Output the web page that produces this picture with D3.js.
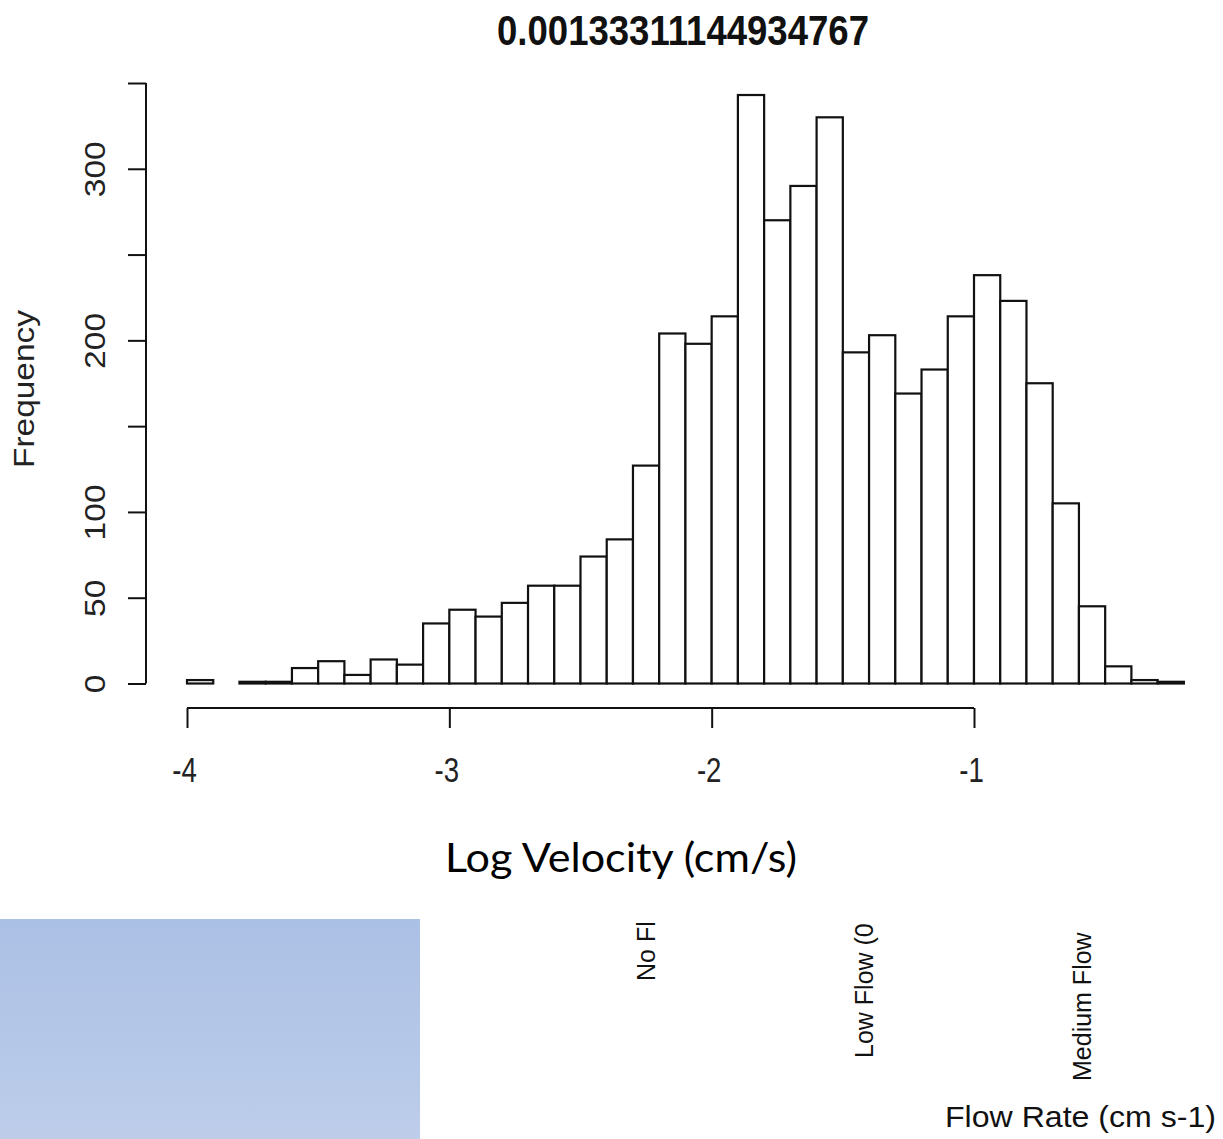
<!DOCTYPE html>
<html>
<head>
<meta charset="utf-8">
<script src="https://cdn.jsdelivr.net/npm/d3@7"></script>
<style>
html, body { margin: 0; padding: 0; background: #fff; }
svg { display: block; }
</style>
</head>
<body>
<svg id="chart" width="1223" height="1139"></svg>
<script>
// ---- data ----
const title = "0.00133311144934767";
const binStarts = [-4.0, -3.9, -3.8, -3.7, -3.6, -3.5, -3.4, -3.3, -3.2, -3.1,
                   -3.0, -2.9, -2.8, -2.7, -2.6, -2.5, -2.4, -2.3, -2.2, -2.1,
                   -2.0, -1.9, -1.8, -1.7, -1.6, -1.5, -1.4, -1.3, -1.2, -1.1,
                   -1.0, -0.9, -0.8, -0.7, -0.6, -0.5, -0.4, -0.3];
const counts = [2, 0, 1, 1, 9, 13, 5, 14, 11, 35,
                43, 39, 47, 57, 57, 74, 84, 127, 204, 198,
                214, 343, 270, 290, 330, 193, 203, 169, 183, 214,
                238, 223, 175, 105, 45, 10, 2, 1];
const binWidth = 0.1;
const xTicks = [-4, -3, -2, -1];
const xTickLabels = ["-4", "-3", "-2", "-1"];
const yTicks = [0, 50, 100, 150, 200, 250, 300, 350];
const yTickLabels = ["0", "50", "100", "", "200", "", "300", ""];
const xLabel = "Log Velocity (cm/s)";
const yLabel = "Frequency";
const flowLabels = ["No Fl", "Low Flow (0", "Medium Flow"];
const flowAxisTitle = "Flow Rate (cm s-1)";

// ---- drawing ----
const svg = d3.select("#chart");
const x = d3.scaleLinear().domain([-4, -1]).range([187, 974]);
const y = d3.scaleLinear().domain([0, 350]).range([683.5, 83]);
const arial = "Liberation Sans, Arial, sans-serif";

// title
svg.append("text")
  .attr("x", 683).attr("y", 45)
  .attr("text-anchor", "middle")
  .attr("font-family", arial)
  .attr("font-weight", "bold")
  .attr("font-size", 42)
  .attr("textLength", 372)
  .attr("lengthAdjust", "spacingAndGlyphs")
  .attr("fill", "#111")
  .text(title);

// bars
svg.append("g").selectAll("rect")
  .data(binStarts.map((b, i) => ({ b, c: counts[i] })))
  .join("rect")
  .attr("x", d => x(d.b))
  .attr("width", d => x(d.b + binWidth) - x(d.b))
  .attr("y", d => y(d.c))
  .attr("height", d => y(0) - y(d.c))
  .attr("fill", "#fff")
  .attr("stroke", "#111")
  .attr("stroke-width", 2.2);

// y axis
const yAxis = d3.axisLeft(y).tickValues(yTicks)
  .tickSize(18).tickFormat((d, i) => yTickLabels[i]);
const gy = svg.append("g").attr("transform", "translate(146,0)").call(yAxis);
gy.select(".domain").attr("d", `M0,${y(0)}V${y(350)}`).attr("stroke", "#111").attr("stroke-width", 2);
gy.selectAll(".tick line").attr("stroke", "#111").attr("stroke-width", 2);
gy.selectAll(".tick text")
  .attr("font-family", arial)
  .attr("font-size", 30)
  .attr("fill", "#222")
  .attr("text-anchor", "middle")
  .attr("x", 0).attr("y", 0).attr("dy", 0)
  .attr("transform", "translate(-41,0) rotate(-90) scale(1.12,1)");

// y label
svg.append("text")
  .attr("transform", "translate(34,389) rotate(-90)")
  .attr("text-anchor", "middle")
  .attr("font-family", arial)
  .attr("font-size", 30)
  .attr("textLength", 158)
  .attr("lengthAdjust", "spacingAndGlyphs")
  .attr("fill", "#222")
  .text(yLabel);

// x axis
const xAxis = d3.axisBottom(x).tickValues(xTicks).tickSize(20)
  .tickFormat((d, i) => xTickLabels[i]);
const gx = svg.append("g").attr("transform", "translate(0,708)").call(xAxis);
gx.select(".domain").attr("d", `M${x(-4)},0H${x(-1)}`).attr("stroke", "#111").attr("stroke-width", 2);
gx.selectAll(".tick line").attr("stroke", "#111").attr("stroke-width", 2);
gx.selectAll(".tick text")
  .attr("font-family", arial)
  .attr("font-size", 30)
  .attr("fill", "#222")
  .attr("y", 0).attr("dy", 0)
  .attr("transform", "translate(-3,74) scale(0.92,1.15)");

// x label
svg.append("text")
  .attr("x", 445).attr("y", 872)
  .attr("font-family", "Lato, Carlito, Calibri, sans-serif")
  .attr("font-size", 41)
  .attr("textLength", 352)
  .attr("lengthAdjust", "spacingAndGlyphs")
  .attr("fill", "#000")
  .text(xLabel);

// blue gradient box
const defs = svg.append("defs");
const grad = defs.append("linearGradient").attr("id", "blueGrad")
  .attr("x1", 0).attr("y1", 0).attr("x2", 0).attr("y2", 1);
grad.append("stop").attr("offset", "0%").attr("stop-color", "#abc0e5");
grad.append("stop").attr("offset", "100%").attr("stop-color", "#bdcdea");
svg.append("rect").attr("x", 0).attr("y", 919).attr("width", 420).attr("height", 220)
  .attr("fill", "url(#blueGrad)");

// flow labels (vertical)
const flowPos = [[655, 981], [873, 1058], [1091, 1081]];
svg.append("g").selectAll("text")
  .data(flowLabels)
  .join("text")
  .attr("transform", (d, i) => `translate(${flowPos[i][0]},${flowPos[i][1]}) rotate(-90)`)
  .attr("font-family", arial)
  .attr("font-size", 25)
  .attr("fill", "#111")
  .text(d => d);

svg.append("text")
  .attr("x", 945).attr("y", 1127)
  .attr("font-family", arial)
  .attr("font-size", 29)
  .attr("textLength", 271)
  .attr("lengthAdjust", "spacingAndGlyphs")
  .attr("fill", "#111")
  .text(flowAxisTitle);
</script>
</body>
</html>
